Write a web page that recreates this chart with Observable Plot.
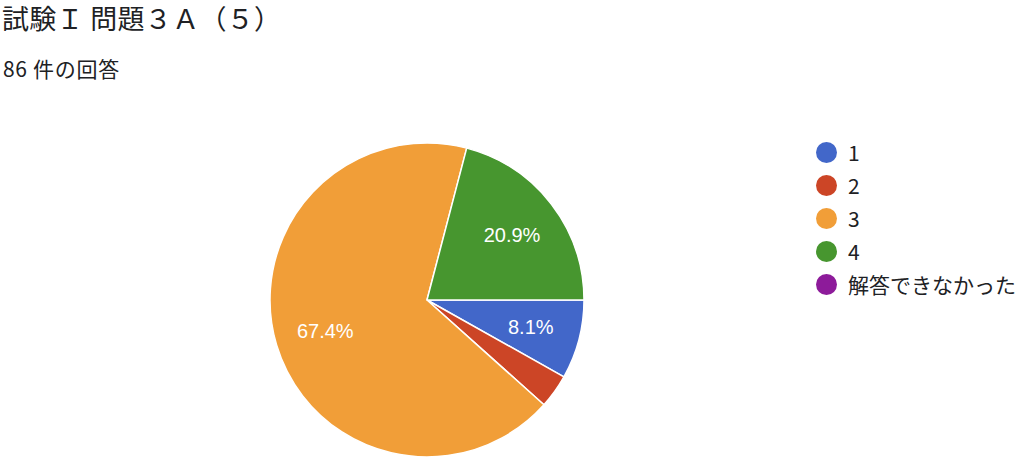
<!DOCTYPE html>
<html>
<head>
<meta charset="utf-8">
<script src="https://cdn.jsdelivr.net/npm/d3@7"></script>
<script src="https://cdn.jsdelivr.net/npm/@observablehq/plot@0.6"></script>
<style>
  html, body { margin: 0; padding: 0; background: #fff; width: 1024px; height: 476px; overflow: hidden; }
  body { position: relative; font-family: "Noto Sans CJK JP", "Noto Sans", sans-serif; color: #202124; }
  #title { position: absolute; left: 2px; top: 0px; font-size: 27px; line-height: 35px; white-space: nowrap; letter-spacing: 0.3px; }
  #subtitle { position: absolute; left: 3px; top: 55px; font-size: 21px; line-height: 27px; white-space: nowrap; letter-spacing: 0.7px; }
  #chart { position: absolute; left: 0; top: 100px; }
  #legend { position: absolute; left: 816px; top: 136px; }
  #legend > div { margin: 0 !important; }
  #legend [class$="-swatch"] { display: flex !important; align-items: center; font-size: 21px !important; line-height: 33px !important; height: 33px !important; margin: 0 !important; padding: 0 !important; color: #202124 !important; }
  #legend svg { clip-path: circle(50%); overflow: hidden; margin-right: 11px !important; flex: none; }
</style>
</head>
<body>
<div id="title">試験Ｉ 問題３Ａ（５）</div>
<div id="subtitle">86 件の回答</div>
<div id="chart"></div>
<div id="legend"></div>
<script>
const categories = ["1", "2", "3", "4", "解答できなかった"];
const counts = [7, 3, 58, 18, 0];
const colors = ["#4267c9", "#cc4526", "#f19e38", "#47962f", "#8d1b9a"];

const total = d3.sum(counts);
const data = categories.map((c, i) => ({category: c, count: counts[i]}));

const pie = d3.pie().value(d => d.count).sort(null)
  .startAngle(Math.PI / 2).endAngle(Math.PI / 2 + 2 * Math.PI);
const arcs = pie(data);

const labelR = 0.68;
const labels = arcs.filter(a => a.data.count / total > 0.05).map(a => {
  const m = (a.startAngle + a.endAngle) / 2;
  return {x: Math.sin(m) * labelR, y: Math.cos(m) * labelR,
          text: (a.data.count / total * 100).toFixed(1) + "%"};
});

const wedges = (index, scales, values, dimensions) => {
  const cx = scales.x(0), cy = scales.y(0);
  const r = scales.x(1) - scales.x(0);
  const arcGen = d3.arc().innerRadius(0).outerRadius(r);
  const g = d3.create("svg:g").attr("transform", `translate(${cx},${cy})`);
  g.selectAll("path").data(arcs.filter(a => a.data.count > 0)).join("path")
    .attr("d", arcGen)
    .attr("fill", a => scales.color(a.data.category))
    .attr("stroke", "#fff")
    .attr("stroke-width", 1.5)
    .attr("stroke-linejoin", "round");
  return g.node();
};

const chart = Plot.plot({
  width: 1024,
  height: 376,
  marginLeft: 270,
  marginRight: 440,
  marginTop: 43,
  marginBottom: 19,
  x: {domain: [-1, 1], axis: null},
  y: {domain: [-1, 1], axis: null},
  color: {domain: categories, range: colors},
  style: {background: "transparent"},
  marks: [
    wedges,
    Plot.text(labels, {x: "x", y: "y", text: "text", fill: "#fff", fontSize: 20,
      fontFamily: "'Liberation Sans', Arial, sans-serif"})
  ]
});
document.getElementById("chart").appendChild(chart);

const legend = Plot.legend({
  color: {domain: categories, range: colors},
  legend: "swatches",
  columns: 1,
  swatchSize: 21,
  style: {fontFamily: "'Noto Sans CJK JP', sans-serif", fontSize: "21px"}
});
document.getElementById("legend").appendChild(legend);
</script>
</body>
</html>
